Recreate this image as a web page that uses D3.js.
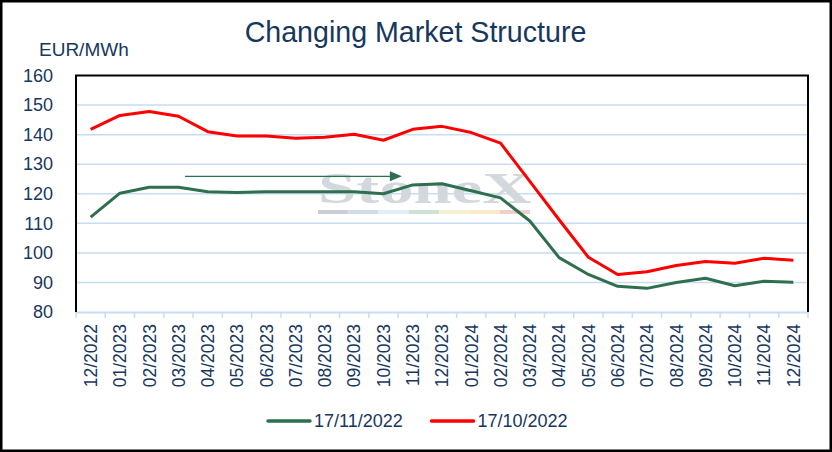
<!DOCTYPE html>
<html><head><meta charset="utf-8">
<script src="https://cdn.jsdelivr.net/npm/d3@7/dist/d3.min.js"></script>
<style>body{margin:0;background:#fff}svg{display:block;font-family:"Liberation Sans",Arial,sans-serif}</style>
</head><body><svg id="c" width="832" height="452"></svg>
<script>
const categories = ["12/2022","01/2023","02/2023","03/2023","04/2023","05/2023","06/2023","07/2023","08/2023","09/2023","10/2023","11/2023","12/2023","01/2024","02/2024","03/2024","04/2024","05/2024","06/2024","07/2024","08/2024","09/2024","10/2024","11/2024","12/2024"];
const seriesNov = [112.1,120.2,122.2,122.2,120.7,120.4,120.7,120.7,120.7,120.7,120.0,123.0,123.4,121.0,118.6,110.8,98.4,92.7,88.7,88.0,90.0,91.4,88.9,90.4,90.1];
const seriesOct = [141.8,146.5,147.8,146.2,141.0,139.5,139.5,138.8,139.1,140.1,138.1,141.8,142.8,140.7,137.1,124.2,111.2,98.5,92.7,93.6,95.7,97.1,96.5,98.2,97.5];
const yTicks = [80,90,100,110,120,130,140,150,160];
const legendNames = ["17/11/2022","17/10/2022"];
const arrowFrom = [3.22,125.9], arrowTo = [10.63,125.9];

const svg = d3.select("#c");
const L=76, R=808, T=75.5, B=312;
const navy="#17375E", green="#2E6F4E", red="#FF0000", grid="#C6DDF3";
const x = d3.scaleBand().domain(categories).range([L,R]).padding(0);
const cx = d => x(d)+x.bandwidth()/2;
const y = d3.scaleLinear().domain([80,160]).range([B,T]);
const xi = d3.scaleLinear().domain([0,categories.length-1]).range([cx(categories[0]),cx(categories[categories.length-1])]);

svg.append("rect").attr("x",1.25).attr("y",1.25).attr("width",829.5).attr("height",449.5).attr("fill","#fff").attr("stroke","#000").attr("stroke-width",2.5);

// title
svg.append("text").attr("x",415.5).attr("y",42).attr("text-anchor","middle").attr("font-size",28.6).attr("fill",navy).text("Changing Market Structure");
svg.append("text").attr("x",39).attr("y",56).attr("font-size",19).attr("fill",navy).text("EUR/MWh");

// gridlines
svg.append("g").selectAll("line").data(yTicks.filter(v=>v>80&&v<160)).join("line")
  .attr("x1",L).attr("x2",R).attr("y1",d=>y(d)).attr("y2",d=>y(d)).attr("stroke",grid).attr("stroke-width",1.5);

// watermark
const wm = svg.append("g");
wm.append("text").attr("x",318).attr("y",203).attr("font-family","'Liberation Serif',serif").attr("font-weight","bold")
  .attr("font-size",44).attr("fill","#D3D8DE").attr("textLength",214).attr("lengthAdjust","spacingAndGlyphs").text("StoneX");
const wmCols=["#C9CFD8","#D2DBE6","#E3EEF8","#CFE1D4","#F5F0D2","#FBE9CB","#F0CFD0"];
wm.selectAll("rect").data(wmCols).join("rect").attr("x",(d,i)=>318+i*30.3).attr("y",210).attr("width",30.3).attr("height",4).attr("fill",d=>d);

// x axis
const xa = svg.append("g").attr("transform",`translate(0,${B})`)
  .call(d3.axisBottom(x).tickSize(0).tickFormat(""));
xa.select(".domain").attr("stroke",grid).attr("stroke-width",2);
const edges = categories.map(c=>x(c)).concat([R]);
svg.append("g").selectAll("line").data(edges).join("line").attr("x1",d=>d).attr("x2",d=>d).attr("y1",B).attr("y2",B+6).attr("stroke",grid).attr("stroke-width",1.5);
svg.append("g").selectAll("text").data(categories).join("text")
  .attr("transform",d=>`translate(${cx(d)},324) rotate(-90)`).attr("text-anchor","end").attr("dy","0.36em")
  .attr("font-size",17.5).attr("fill",navy).text(d=>d);

// y axis labels
const ya = svg.append("g").attr("transform",`translate(${L},0)`).call(d3.axisLeft(y).tickValues(yTicks).tickSize(0).tickPadding(23));
ya.select(".domain").remove();
ya.selectAll("text").attr("font-size",18).attr("fill",navy).attr("font-family","'Liberation Sans',Arial,sans-serif");

// plot border (left, top, right)
svg.append("path").attr("d",`M${L},${B}V${T}H${R}V${B}`).attr("fill","none").attr("stroke","#000").attr("stroke-width",2);

// arrow
svg.append("line").attr("x1",xi(arrowFrom[0])).attr("y1",y(arrowFrom[1])).attr("x2",xi(arrowTo[0])-10).attr("y2",y(arrowTo[1])).attr("stroke",green).attr("stroke-width",1.3);
const ax=xi(arrowTo[0]), ay=y(arrowTo[1]);
svg.append("path").attr("d",`M${ax},${ay}L${ax-12},${ay-5}L${ax-12},${ay+5}Z`).attr("fill",green);

// lines
const line = d3.line().x((d,i)=>cx(categories[i])).y(d=>y(d));
svg.append("path").datum(seriesNov).attr("d",line).attr("fill","none").attr("stroke",green).attr("stroke-width",3).attr("stroke-linejoin","round");
svg.append("path").datum(seriesOct).attr("d",line).attr("fill","none").attr("stroke",red).attr("stroke-width",3).attr("stroke-linejoin","round");

// legend
const lg=[{n:legendNames[0],c:green,x:268},{n:legendNames[1],c:red,x:431.5}];
const lgG=svg.append("g").selectAll("g").data(lg).join("g");
lgG.append("line").attr("x1",d=>d.x).attr("x2",d=>d.x+42).attr("y1",421).attr("y2",421).attr("stroke",d=>d.c).attr("stroke-width",3.5).attr("stroke-linecap","round");
lgG.append("text").attr("x",d=>d.x+46).attr("y",427).attr("font-size",18).attr("fill",navy).text(d=>d.n);
</script></body></html>
